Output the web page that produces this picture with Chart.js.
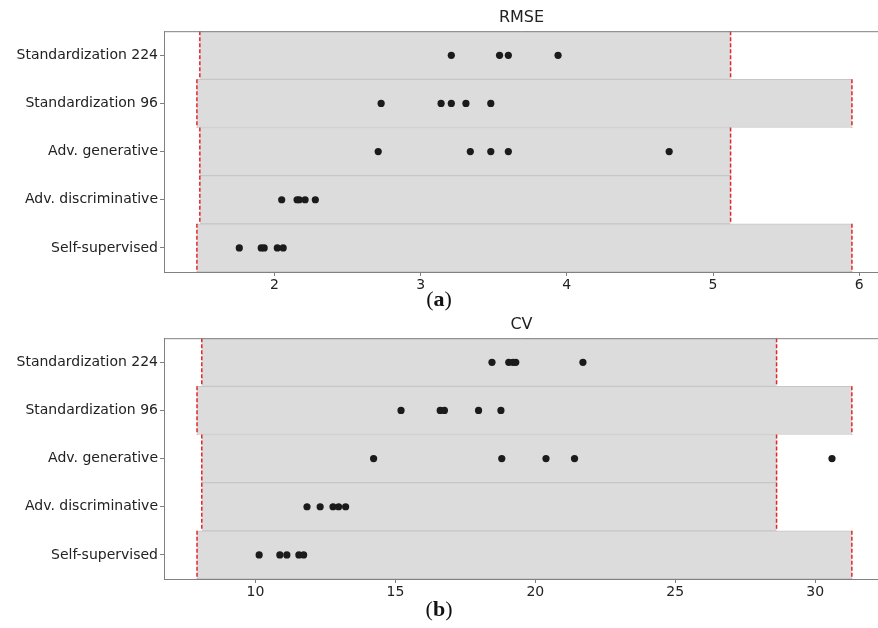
<!DOCTYPE html>
<html>
<head>
<meta charset="utf-8">
<script src="https://cdn.jsdelivr.net/npm/chart.js@4"></script>
<style>
  html, body { margin:0; padding:0; background:#fff; overflow:hidden; width:878px; height:628px; }
  .panel { position:absolute; left:0; width:883px; height:296px; }
  .sub { position:absolute; width:878px; text-align:center; font-family:"Liberation Serif","DejaVu Serif",serif; font-size:22px; color:#111; }
</style>
</head>
<body>
<div class="panel" style="top:0"><canvas id="rmseChart"></canvas></div>
<div class="panel" style="top:307px"><canvas id="cvChart"></canvas></div>
<div class="sub" style="top:286px">(<b>a</b>)</div>
<div class="sub" style="top:596px">(<b>b</b>)</div>
<script>
// =====================================
// data
// =====================================

const categories = ["Standardization 224", "Standardization 96", "Adv. generative", "Adv. discriminative", "Self-supervised"];

// RMSE panel
const rmseLow = [1.49, 1.47, 1.49, 1.49, 1.47];
const rmseHigh = [5.12, 5.95, 5.12, 5.12, 5.95];
const rmseStd224 = [3.21, 3.54, 3.60, 3.94];
const rmseStd96 = [2.73, 3.14, 3.21, 3.31, 3.48];
const rmseAdvGen = [2.71, 3.34, 3.48, 3.60, 4.70];
const rmseAdvDisc = [2.05, 2.155, 2.17, 2.21, 2.28];
const rmseSelf = [1.76, 1.91, 1.93, 2.02, 2.06];
const rmseTicks = [2, 3, 4, 5, 6];

// CV panel
const cvLow = [8.08, 7.91, 8.08, 8.08, 7.91];
const cvHigh = [28.62, 31.31, 28.62, 28.62, 31.31];
const cvStd224 = [18.45, 19.05, 19.2, 19.3, 21.7];
const cvStd96 = [15.2, 16.6, 16.75, 17.97, 18.77];
const cvAdvGen = [14.22, 18.8, 20.38, 21.4, 30.6];
const cvAdvDisc = [11.84, 12.31, 12.77, 12.97, 13.22];
const cvSelf = [10.13, 10.87, 11.12, 11.55, 11.72];
const cvTicks = [10, 15, 20, 25, 30];

const SPINE = "#808080";
const FONT = "'DejaVu Sans', sans-serif";

// =====================================
// red dashed ends of each band + top spine
// =====================================

const bandEdges = {
    id: "bandEdges",
    afterDatasetsDraw(chart){
        const ctx = chart.ctx;
        const area = chart.chartArea;
        const bars = chart.getDatasetMeta(0).data;
        ctx.save();
        ctx.strokeStyle = "#e3262b";
        ctx.lineWidth = 1.5;
        ctx.setLineDash([4, 2]);
        bars.forEach(bar => {
            const top = bar.y - bar.height / 2;
            const bottom = bar.y + bar.height / 2;
            [bar.base, bar.x].forEach(px => {
                ctx.beginPath();
                ctx.moveTo(px, top);
                ctx.lineTo(px, bottom);
                ctx.stroke();
            });
        });
        ctx.setLineDash([]);
        ctx.strokeStyle = SPINE;
        ctx.lineWidth = 1;
        ctx.beginPath();
        ctx.moveTo(area.left, area.top + 0.5);
        ctx.lineTo(area.right, area.top + 0.5);
        ctx.stroke();
        ctx.restore();
    }
};

function pointsFor(lists){
    const pts = [];
    lists.forEach((vals, i) => {
        vals.forEach(v => pts.push({x: v, y: categories[i]}));
    });
    return pts;
}

function makeChart(id, title, low, high, lists, ticks, xmin, xmax){

    return new Chart(document.getElementById(id), {
        type: "bar",
        data: {
            labels: categories,
            datasets: [
                {
                    type: "bar",
                    data: low.map((l, i) => [l, high[i]]),
                    backgroundColor: "#dcdcdc",
                    borderColor: "#c6c6c6",
                    borderWidth: {top: 1, bottom: 1, left: 0, right: 0},
                    borderSkipped: false,
                    barPercentage: 1,
                    categoryPercentage: 1,
                    order: 2
                },
                {
                    type: "scatter",
                    data: pointsFor(lists),
                    pointRadius: 3.6,
                    pointBackgroundColor: "#1b1b1b",
                    pointBorderWidth: 0,
                    order: 1
                }
            ]
        },
        options: {
            indexAxis: "y",
            responsive: true,
            maintainAspectRatio: false,
            animation: false,
            layout: {padding: 0},
            plugins: {
                legend: {display: false},
                tooltip: {enabled: false},
                title: {
                    display: true,
                    text: title,
                    fullSize: false,
                    color: "#222",
                    font: {family: FONT, size: 16, weight: "normal"},
                    padding: {top: 8, bottom: 4}
                }
            },
            scales: {
                x: {
                    type: "linear",
                    min: xmin,
                    max: xmax,
                    afterBuildTicks: scale => { scale.ticks = ticks.map(v => ({value: v})); },
                    afterFit: scale => { scale.height = 24; },
                    grid: {drawOnChartArea: false, drawTicks: true, tickLength: 4, color: SPINE},
                    border: {color: SPINE},
                    ticks: {color: "#222", padding: 1, font: {family: FONT, size: 14}, maxRotation: 0}
                },
                y: {
                    type: "category",
                    labels: categories,
                    offset: true,
                    afterFit: scale => { scale.width = 164; },
                    grid: {drawOnChartArea: false, drawTicks: true, tickLength: 4, offset: false, color: SPINE},
                    border: {color: SPINE},
                    ticks: {color: "#222", padding: 2, font: {family: FONT, size: 14}}
                }
            }
        },
        plugins: [bandEdges]
    });

}

makeChart("rmseChart", "RMSE", rmseLow, rmseHigh,
    [rmseStd224, rmseStd96, rmseAdvGen, rmseAdvDisc, rmseSelf], rmseTicks, 1.245, 6.135);

makeChart("cvChart", "CV", cvLow, cvHigh,
    [cvStd224, cvStd96, cvAdvGen, cvAdvDisc, cvSelf], cvTicks, 6.73, 32.28);
</script>
</body>
</html>
